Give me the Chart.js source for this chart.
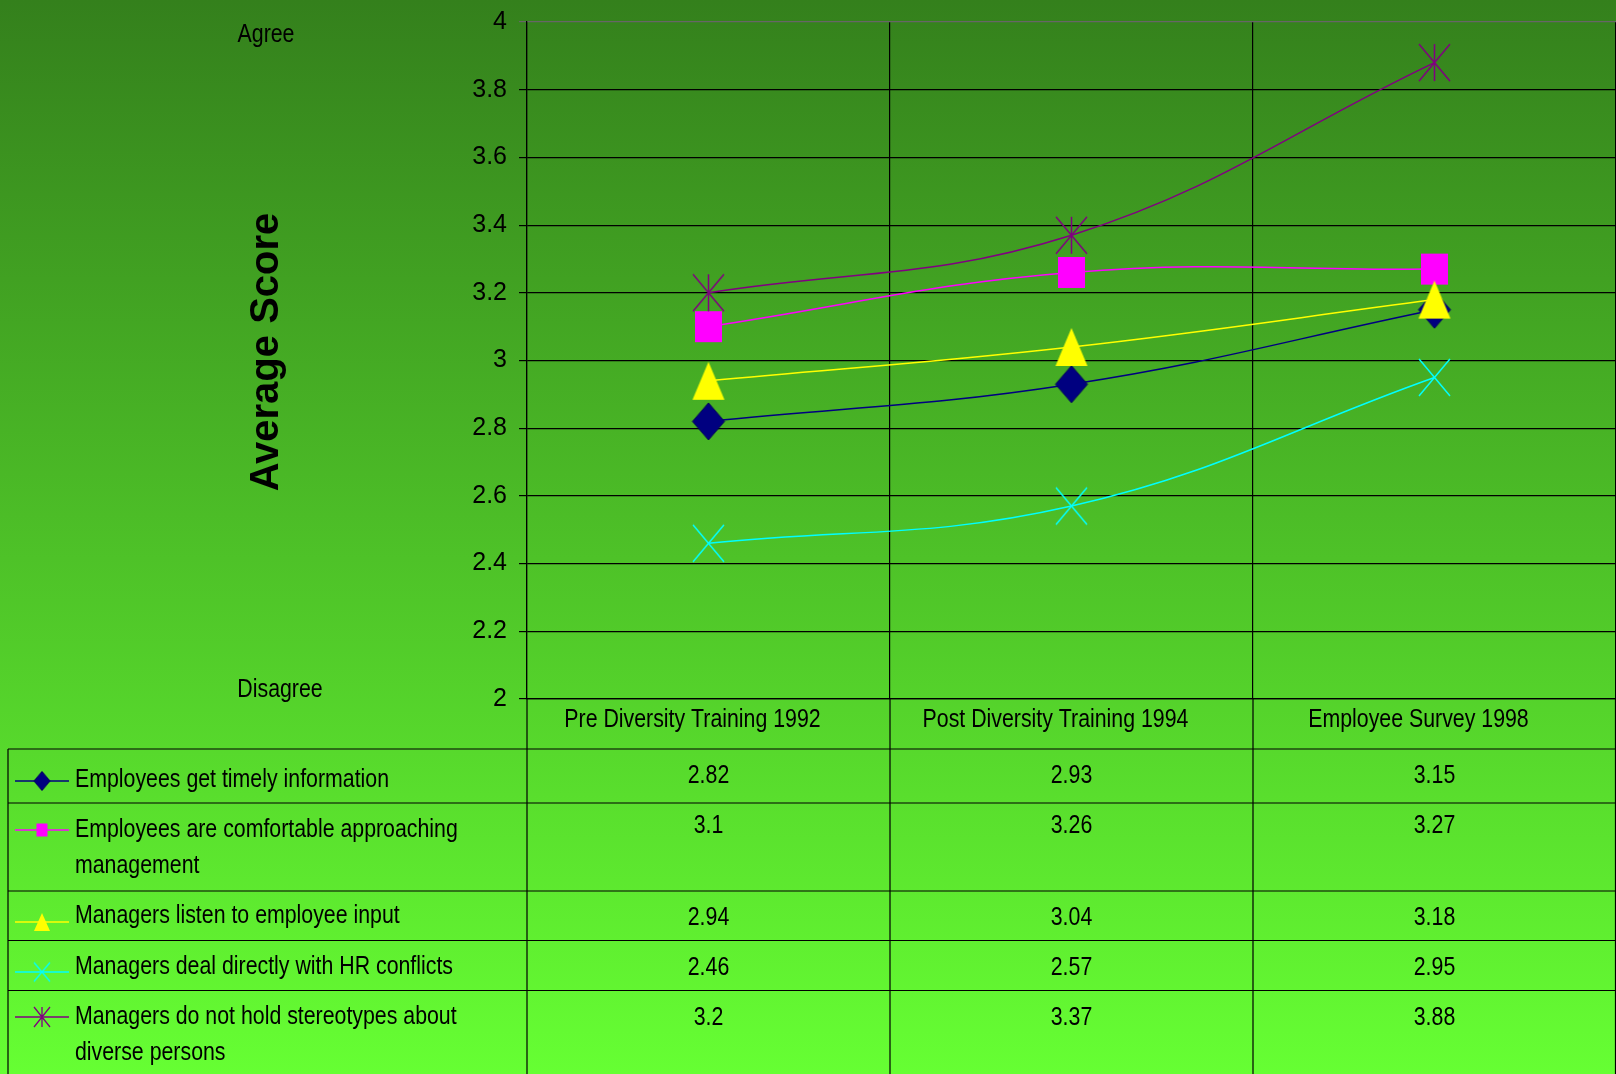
<!DOCTYPE html>
<html><head><meta charset="utf-8">
<script src="https://cdn.jsdelivr.net/npm/chart.js@4.4.1/dist/chart.umd.min.js"></script>
<style>html,body{margin:0;padding:0;background:#4fc52a;overflow:hidden}#wrap{width:1616px;height:1074px;position:relative}</style>
</head><body><div id="wrap"><canvas id="c" width="1616" height="1074"></canvas></div>
<script>
// ---- data ----
const categories = ['Pre Diversity Training 1992', 'Post Diversity Training 1994', 'Employee Survey 1998'];
const seriesNames = [
  'Employees get timely information',
  'Employees are comfortable approaching management',
  'Managers listen to employee input',
  'Managers deal directly with HR conflicts',
  'Managers do not hold stereotypes about diverse persons'
];
const timelyInfo  = [2.82, 2.93, 3.15];
const comfortable = [3.1, 3.26, 3.27];
const listenInput = [2.94, 3.04, 3.18];
const hrConflicts = [2.46, 2.57, 2.95];
const stereotypes = [3.2, 3.37, 3.88];
const yTicks = [2, 2.2, 2.4, 2.6, 2.8, 3, 3.2, 3.4, 3.6, 3.8, 4];
const axisTitle = 'Average Score';
const topNote = 'Agree';
const bottomNote = 'Disagree';

// ---- styles ----
const SANS = "'Liberation Sans',Arial,sans-serif";
const NARROW_SCALE = 0.82;
const colors = ['#000080', '#ff00ff', '#ffff00', '#00ffff', '#800080'];
const kinds = ['diamond', 'square', 'triangle', 'x', 'star'];

function marker(kind, color, w, h, lw) {
  const c = document.createElement('canvas');
  c.width = Math.ceil(w) + 4; c.height = Math.ceil(h) + 4;
  const g = c.getContext('2d');
  const cx = c.width / 2, cy = c.height / 2, hw = w / 2, hh = h / 2;
  g.fillStyle = color; g.strokeStyle = color; g.lineWidth = lw;
  g.beginPath();
  if (kind === 'diamond') {
    g.moveTo(cx, cy - hh); g.lineTo(cx + hw, cy); g.lineTo(cx, cy + hh); g.lineTo(cx - hw, cy); g.closePath(); g.fill();
    g.strokeStyle = '#00005a'; g.lineWidth = 1; g.stroke();
  } else if (kind === 'square') {
    g.fillRect(cx - hw, cy - hh, w, h);
  } else if (kind === 'triangle') {
    g.moveTo(cx, cy - hh); g.lineTo(cx + hw, cy + hh); g.lineTo(cx - hw, cy + hh); g.closePath(); g.fill();
  } else {
    g.moveTo(cx - hw, cy - hh); g.lineTo(cx + hw, cy + hh);
    g.moveTo(cx + hw, cy - hh); g.lineTo(cx - hw, cy + hh);
    if (kind === 'star') { g.moveTo(cx, cy - hh); g.lineTo(cx, cy + hh); }
    g.stroke();
  }
  return c;
}
const bigSizes = [[32, 37], [27, 31], [32, 38], [31, 37], [31, 37]];
const smallSizes = [[16, 19], [11, 13], [16, 18], [16, 19], [16, 20]];
const bigMarkers = kinds.map((k, i) => marker(k, colors[i], bigSizes[i][0], bigSizes[i][1], 1.5));
const smallMarkers = kinds.map((k, i) => marker(k, colors[i], smallSizes[i][0], smallSizes[i][1], 1.3));

const seriesValues = [timelyInfo, comfortable, listenInput, hrConflicts, stereotypes];

const datasets = seriesValues.map((vals, i) => ({
  label: seriesNames[i],
  data: vals,
  borderColor: colors[i],
  backgroundColor: colors[i],
  borderWidth: 1.5,
  tension: 0.4,
  pointStyle: bigMarkers[i],
  pointRadius: 16,
  pointHoverRadius: 16,
  order: seriesValues.length - i
}));

// layout of the data table below the chart (pixel positions)
const T = {
  left: 8, rowLines: [749, 803, 891, 940.5, 990.5], bottom: 1074,
  symY: [781, 830, 922, 972, 1017],
  labelBase: [787, 837, 923, 974, 1024],
  valueBase: [783, 833, 925, 975, 1025],
  headBase: 727, headShift: -16,
  lineGap: 36, textX: 75, symX0: 15, symX1: 69, symCX: 42, wrapW: 444
};

function narrowText(ctx, text, x, y, align) {
  ctx.save();
  ctx.translate(x, y);
  ctx.scale(NARROW_SCALE, 1);
  ctx.textAlign = align;
  ctx.fillText(text, 0, 0);
  ctx.restore();
}
function wrap(ctx, text, maxW) {
  const words = text.split(' '); const lines = []; let cur = '';
  for (const w of words) {
    const t = cur ? cur + ' ' + w : w;
    if (ctx.measureText(t).width * NARROW_SCALE > maxW && cur) { lines.push(cur); cur = w; } else cur = t;
  }
  if (cur) lines.push(cur);
  return lines;
}

const bgPlugin = {
  id: 'bg',
  beforeDraw(chart) {
    const { ctx, width, height } = chart;
    const g = ctx.createLinearGradient(0, 0, 0, height);
    g.addColorStop(0, '#34801c');
    g.addColorStop(1, '#66ff33');
    ctx.save(); ctx.fillStyle = g; ctx.fillRect(0, 0, width, height); ctx.restore();
  }
};

const tablePlugin = {
  id: 'table',
  afterDraw(chart) {
    const { ctx, width, chartArea } = chart;
    const xs = chart.scales.x;
    const n = categories.length;
    const centers = categories.map((c, i) => xs.getPixelForValue(i));
    ctx.save();
    ctx.strokeStyle = '#000'; ctx.lineWidth = 1.2;
    ctx.beginPath();
    T.rowLines.forEach(y => { ctx.moveTo(T.left, y); ctx.lineTo(width, y); });
    ctx.moveTo(T.left, T.rowLines[0]); ctx.lineTo(T.left, T.bottom);
    ctx.moveTo(chartArea.left, chartArea.bottom); ctx.lineTo(chartArea.left, T.bottom);
    for (let i = 0; i < n - 1; i++) {
      const bx = (centers[i] + centers[i + 1]) / 2;
      ctx.moveTo(bx, chartArea.bottom); ctx.lineTo(bx, T.bottom);
    }
    ctx.moveTo(width - 0.5, chartArea.bottom); ctx.lineTo(width - 0.5, T.bottom);
    ctx.stroke();

    ctx.font = '26px ' + SANS;
    ctx.fillStyle = '#000';
    ctx.textBaseline = 'alphabetic';
    // category header row
    categories.forEach((c, j) => narrowText(ctx, c, centers[j] + T.headShift, T.headBase, 'center'));
    // legend keys + labels + values
    seriesNames.forEach((name, i) => {
      ctx.strokeStyle = colors[i]; ctx.lineWidth = 1.4;
      ctx.beginPath(); ctx.moveTo(T.symX0, T.symY[i]); ctx.lineTo(T.symX1, T.symY[i]); ctx.stroke();
      const m = smallMarkers[i];
      ctx.drawImage(m, T.symCX - m.width / 2, T.symY[i] - m.height / 2);
      wrap(ctx, name, T.wrapW).forEach((ln, k) => narrowText(ctx, ln, T.textX, T.labelBase[i] + k * T.lineGap, 'left'));
      seriesValues[i].forEach((v, j) => narrowText(ctx, String(v), centers[j], T.valueBase[i], 'center'));
    });

    // side notes
    narrowText(ctx, topNote, 266, 42, 'center');
    narrowText(ctx, bottomNote, 280, 697, 'center');
    ctx.save();
    ctx.translate(267, 352); ctx.rotate(-Math.PI / 2);
    ctx.font = 'bold 40px ' + SANS;
    ctx.textAlign = 'center';
    ctx.textBaseline = 'middle';
    ctx.fillText(axisTitle, 0, 0);
    ctx.restore();
    ctx.restore();
  }
};

new Chart(document.getElementById('c'), {
  type: 'line',
  data: { labels: categories, datasets },
  options: {
    responsive: false, animation: false, devicePixelRatio: 1,
    layout: { autoPadding: false, padding: { top: 22, left: 0, right: 0, bottom: 0 } },
    plugins: { legend: { display: false }, tooltip: { enabled: false } },
    scales: {
      x: {
        offset: true,
        grid: { offset: true, color: '#000', lineWidth: 1.2, drawTicks: false },
        border: { color: '#000', width: 1.2 },
        ticks: { display: false },
        afterFit(s) { s.height = 375; }
      },
      y: {
        min: 2, max: 4,
        afterBuildTicks(s) { s.ticks = yTicks.map(v => ({ value: v })); },
        grid: { color: c => (c.tick && c.tick.value === 4 ? '#666' : '#000'), lineWidth: 1.2, tickLength: 8 },
        border: { color: '#000', width: 1.2 },
        ticks: { font: { family: SANS, size: 25 }, color: '#000', padding: 12, callback: v => String(v) },
        afterFit(s) { s.width = 527; s.paddingTop = 0; s.paddingBottom = 0; }
      }
    }
  },
  plugins: [bgPlugin, tablePlugin]
});
</script>
</body></html>
